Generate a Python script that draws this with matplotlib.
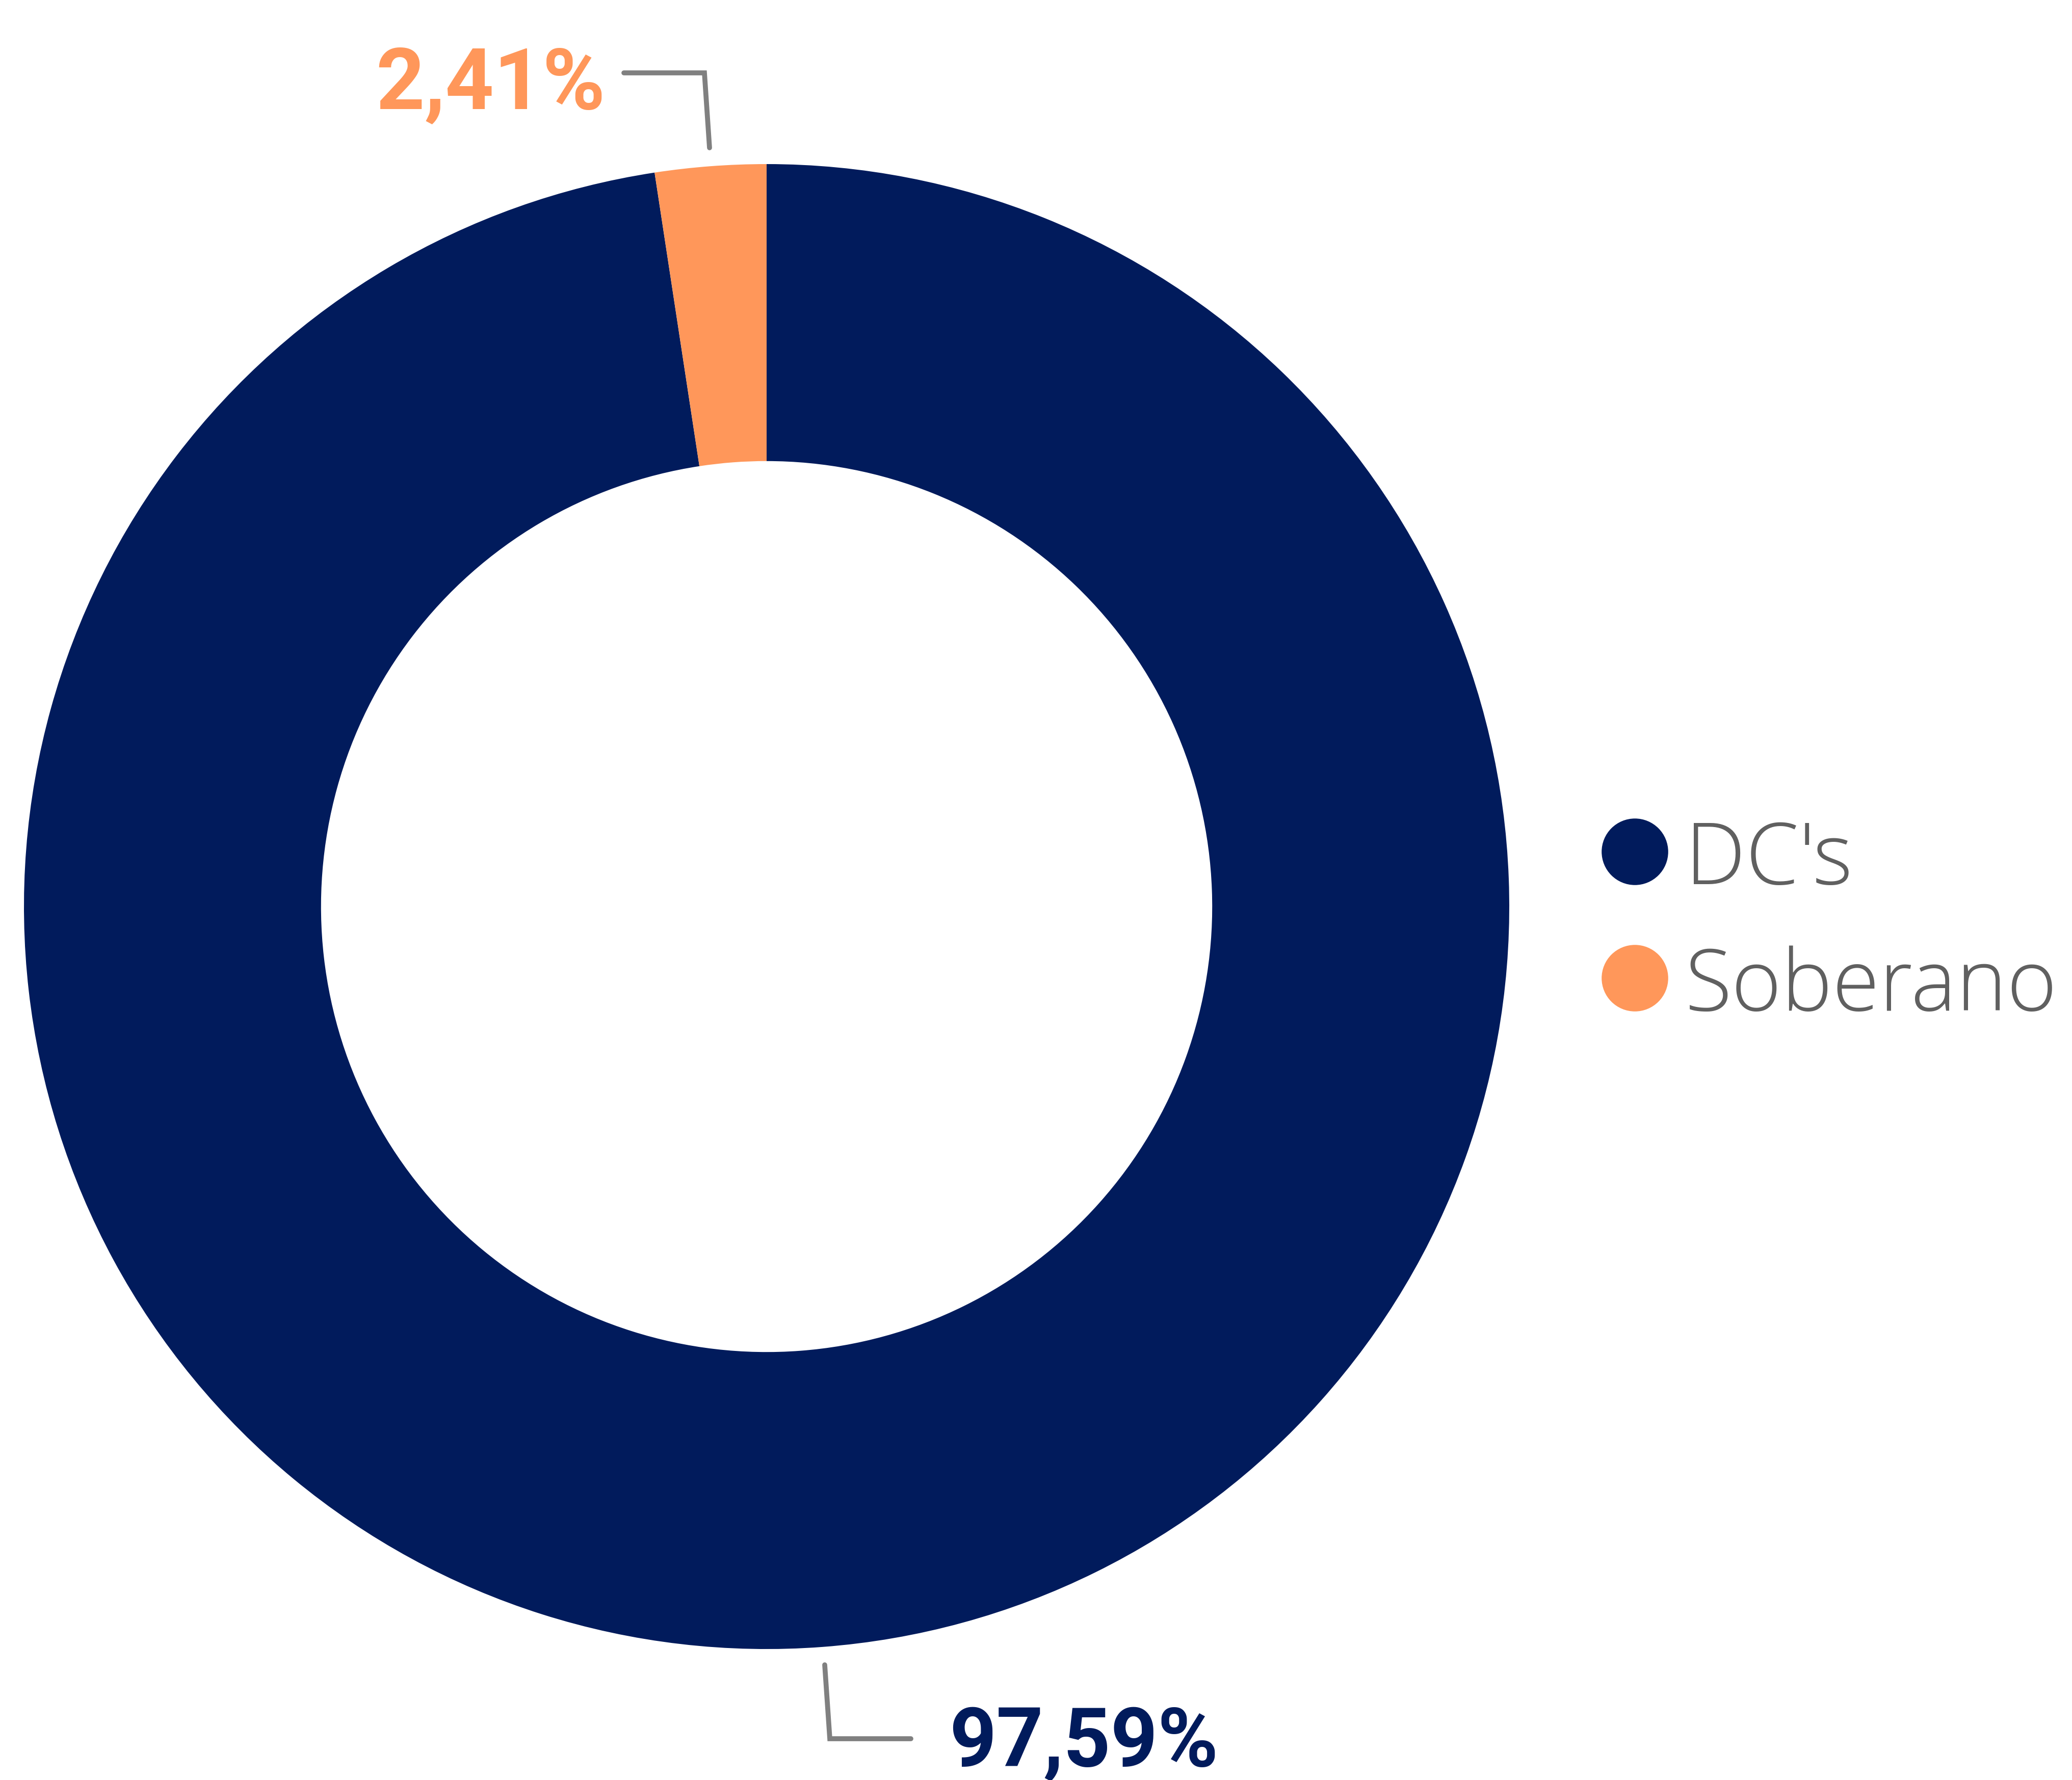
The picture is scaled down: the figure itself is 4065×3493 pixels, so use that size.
import matplotlib.pyplot as plt

categories = ["DC's", "Soberano"]
values = [97.59, 2.41]
colors = ['#011b5c', '#ff975a']

W, H = 4066, 3493


def pct(v):
    return f'{v:.2f}%'.replace('.', ',')


fig = plt.figure(figsize=(W / 100, H / 100), dpi=100)
ax = fig.add_axes([0, 0, 1, 1])

# donut, clockwise from 12 o'clock
cx, cy, r = 1504, H - 1779, 1457
ax.pie(values, colors=colors, startangle=90, counterclock=False,
       radius=r, center=(cx, cy), wedgeprops=dict(width=0.4 * r, linewidth=0))

ax.set_xlim(0, W)
ax.set_ylim(0, H)
ax.set_aspect('equal')
ax.axis('off')

# leader lines
line_kw = dict(color='#808080', lw=7, solid_capstyle='round', solid_joinstyle='miter')
ax.plot([1224, 1382, 1392], [H - 143, H - 143, H - 290], **line_kw)
ax.plot([1618, 1628, 1787], [H - 3267, H - 3412, H - 3412], **line_kw)

# value labels
ax.text(962, H - 213, pct(values[1]), color=colors[1], fontsize=120,
        fontweight='bold', family='Roboto', ha='center', va='baseline')
ax.text(2126, H - 3466, pct(values[0]), color=colors[0], fontsize=116,
        fontweight='bold', family='Roboto', ha='center', va='baseline')

# legend
leg_y = [H - 1671, H - 1919]
for name, col, y in zip(categories, colors, leg_y):
    ax.plot(3207, y, 'o', color=col, markersize=94, markeredgewidth=0)
    ax.text(3306, y, name, color='#606060', fontsize=121, fontweight='light',
            family='Open Sans', ha='left', va='center_baseline')

fig.savefig('out.png', dpi=100)
